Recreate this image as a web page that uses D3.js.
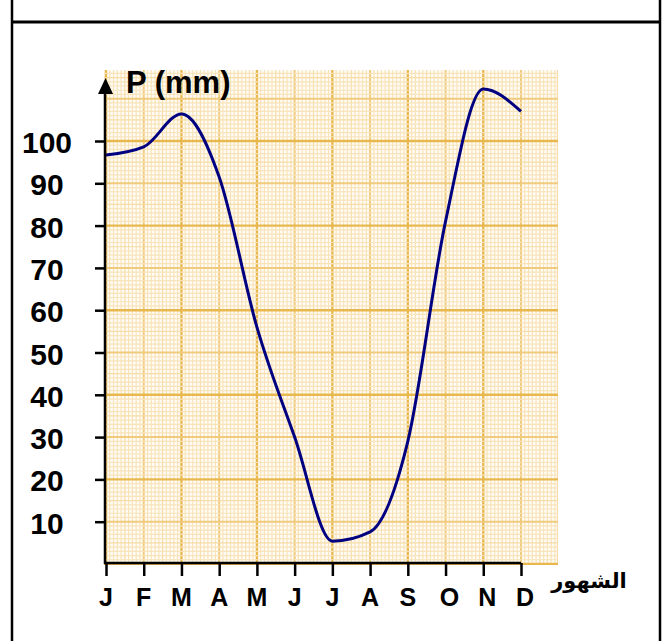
<!DOCTYPE html>
<html>
<head>
<meta charset="utf-8">
<script src="https://cdn.jsdelivr.net/npm/d3@7"></script>
<style>
  body { margin: 0; background: #fff; }
  svg { display: block; }
  text { font-family: "Liberation Sans", Arial, sans-serif; font-weight: bold; fill: #000; }
</style>
</head>
<body>
<div id="chart"></div>
<script>
'use strict';

// monthly rainfall (mm)
var months = ['J', 'F', 'M', 'A', 'M', 'J', 'J', 'A', 'S', 'O', 'N', 'D'];
var rain = [96.7, 98.6, 106.4, 91.5, 56, 30, 5.4, 7.6, 29, 81, 112.3, 107];
var yTicks = [10, 20, 30, 40, 50, 60, 70, 80, 90, 100];

var W = 664, H = 641;

var svg = d3.select('#chart').append('svg')
  .attr('width', W)
  .attr('height', H);

// scales
var x = d3.scaleLinear().domain([0, 11]).range([106, 521]);
var y = d3.scaleLinear().domain([0, 100]).range([564, 141]);

// graph paper area
var gx0 = 104, gx1 = 558, gy0 = 70, gy1 = 565;
var paper = svg.append('g').attr('class', 'paper');

var clip = svg.append('clipPath').attr('id', 'paperclip');
clip.append('rect')
  .attr('x', gx0).attr('y', gy0)
  .attr('width', gx1 - gx0).attr('height', gy1 - gy0);
paper.attr('clip-path', 'url(#paperclip)');

paper.append('rect')
  .attr('x', gx0).attr('y', gy0)
  .attr('width', gx1 - gx0).attr('height', gy1 - gy0)
  .style('fill', '#fffcf5');

function gridColor(d) {
  if (d % 20 === 0) return '#e8b84e';
  if (d % 10 === 0) return '#f0cb7e';
  if (d % 5 === 0) return '#f6dca6';
  return '#f8e3ba';
}
function gridWidth(d) {
  if (d % 20 === 0) return 2.4;
  if (d % 10 === 0) return 2;
  return 1.2;
}

// vertical lines: 10 per month, stronger each month, strongest every 2 months
var vSteps = d3.range(0, 121);
paper.selectAll('line.v')
  .data(vSteps)
  .enter().append('line')
  .attr('x1', function (d) { return x(d / 10); })
  .attr('x2', function (d) { return x(d / 10); })
  .attr('y1', gy0).attr('y2', gy1)
  .style('stroke', gridColor)
  .style('stroke-width', gridWidth);

// horizontal lines: 1 mm each, stronger every 10, strongest every 20
var hSteps = d3.range(0, 121);
paper.selectAll('line.h')
  .data(hSteps)
  .enter().append('line')
  .attr('y1', function (d) { return y(d); })
  .attr('y2', function (d) { return y(d); })
  .attr('x1', gx0).attr('x2', gx1)
  .style('stroke', gridColor)
  .style('stroke-width', gridWidth);

// frame
svg.append('line').attr('x1', 12).attr('x2', 12).attr('y1', 0).attr('y2', H)
  .style('stroke', '#000').style('stroke-width', 2.5);
svg.append('line').attr('x1', 660).attr('x2', 660).attr('y1', 0).attr('y2', H)
  .style('stroke', '#000').style('stroke-width', 2.5);
svg.append('line').attr('x1', 12).attr('x2', 660).attr('y1', 22).attr('y2', 22)
  .style('stroke', '#000').style('stroke-width', 3);

// rainfall curve
var line = d3.line()
  .x(function (d, i) { return x(i); })
  .y(function (d) { return y(d); })
  .curve(d3.curveMonotoneX);

svg.append('path')
  .datum(rain)
  .attr('d', line)
  .style('fill', 'none')
  .style('stroke', '#000080')
  .style('stroke-width', 3);

// y axis (ticks only, labels drawn separately)
var yAxis = svg.append('g')
  .attr('transform', 'translate(105,0)')
  .call(d3.axisLeft(y).tickValues(yTicks).tickSize(10).tickFormat(''));
yAxis.select('.domain').remove();
yAxis.selectAll('.tick line').style('stroke', '#000').style('stroke-width', 2.5);

svg.append('line')
  .attr('x1', 105).attr('x2', 105).attr('y1', 564).attr('y2', 90)
  .style('stroke', '#000').style('stroke-width', 2.5);
svg.append('path')
  .attr('d', 'M98,94 L105.5,78 L113,94 Z')
  .style('fill', '#000');

svg.selectAll('text.ylab')
  .data(yTicks)
  .enter().append('text')
  .attr('class', 'ylab')
  .attr('x', 47)
  .attr('y', function (d) { return y(d) + 12; })
  .style('text-anchor', 'middle')
  .style('font-size', '30px')
  .text(function (d) { return d; });

svg.append('text')
  .attr('x', 126)
  .attr('y', 93)
  .style('font-size', '31px')
  .text('P (mm)');

// x axis
var xAxis = svg.append('g')
  .attr('transform', 'translate(0,563)')
  .call(d3.axisBottom(x).tickValues(d3.range(0, 12)).tickSize(13).tickSizeOuter(0).tickFormat(''));
xAxis.select('.domain')
  .attr('d', 'M' + (x(0) - 2) + ',0H' + x(11))
  .style('stroke', '#000').style('stroke-width', 2.5);
xAxis.selectAll('.tick line').style('stroke', '#000').style('stroke-width', 2.5);

svg.selectAll('text.xlab')
  .data(months)
  .enter().append('text')
  .attr('class', 'xlab')
  .attr('x', function (d, i) { return x(i) + (i > 8 ? 4 : 0); })
  .attr('y', 606)
  .style('text-anchor', 'middle')
  .style('font-size', '25px')
  .text(function (d) { return d; });

svg.append('text')
  .attr('x', 589)
  .attr('y', 588)
  .style('text-anchor', 'middle')
  .style('font-family', '"DejaVu Sans", sans-serif')
  .style('font-size', '21px')
  .text('الشهور');
</script>
</body>
</html>
